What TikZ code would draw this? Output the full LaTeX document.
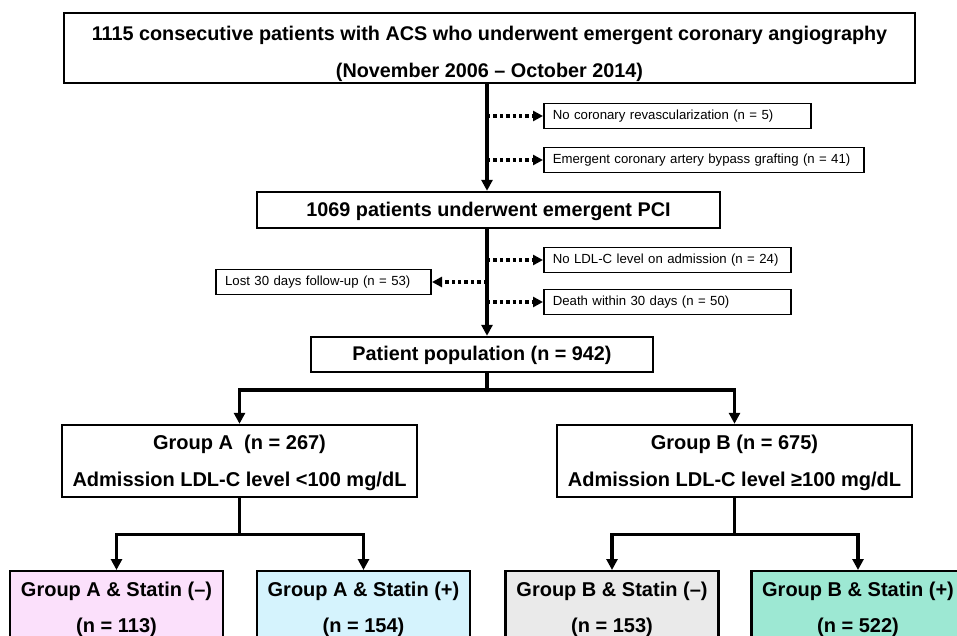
\documentclass[tikz,border=0pt]{standalone}
\usepackage{fontspec}
\setmainfont{Liberation Sans}
\usetikzlibrary{arrows.meta}
\definecolor{pinkfill}{HTML}{FBE0FB}
\definecolor{bluefill}{HTML}{D5F3FD}
\definecolor{greyfill}{HTML}{EAEAEA}
\definecolor{greenfill}{HTML}{9DE8D3}
\tikzset{
    mainbox/.style={draw, line width=2.4pt, fill=white, inner sep=0pt, align=center,
        font=\bfseries\fontsize{19.8}{37}\selectfont},
    groupbox/.style={mainbox, font=\bfseries\fontsize{20}{37}\selectfont},
    endbox/.style={draw, line width=2.4pt, inner xsep=0pt, inner ysep=11pt, align=center,
        anchor=north, minimum width=213, font=\bfseries\fontsize{20}{36}\selectfont},
    sidebox/.style={draw, line width=1.7pt, fill=white, inner xsep=9pt, inner ysep=0pt,
        minimum height=25, anchor=west, align=left, font=\fontsize{13.2}{15}\selectfont},
    flow/.style={line width=3.2pt, -{Triangle[length=11pt,width=11pt]}},
    drop/.style={line width=3.2pt, dash pattern=on 3.4pt off 3pt, -{Triangle[length=10pt,width=10pt]}}
}
\begin{document}
\begin{tikzpicture}[x=1pt,y=-1pt]
    \useasboundingbox (0,0) rectangle (957,636);
    \clip (0,0) rectangle (957,636);

    \coordinate (trunk) at (487,0);

    \node[
        mainbox,
        minimum width=851,
        minimum height=70,
        name=cohort
    ] at (489.5,48) {\rule{0pt}{26pt}1115 consecutive patients with ACS who underwent emergent coronary angiography\\(November 2006 – October 2014)};

    \node[
        sidebox,
        text width=249,
        name=norevasc
    ] at (543,116) {No coronary revascularization (n = 5)};
    \node[
        sidebox,
        text width=302,
        name=cabg
    ] at (543,160) {Emergent coronary artery bypass grafting (n = 41)};

    \node[
        mainbox,
        minimum width=463,
        minimum height=36,
        name=pci
    ] at (488.5,210) {\rule{0pt}{17pt}1069 patients underwent emergent PCI};

    \node[
        sidebox,
        text width=229,
        name=noldl
    ] at (543,260) {No LDL-C level on admission (n = 24)};
    \node[
        sidebox,
        text width=197,
        anchor=east,
        name=lost
    ] at (432,282) {Lost 30 days follow-up (n = 53)};
    \node[
        sidebox,
        text width=229,
        name=death
    ] at (543,302) {Death within 30 days (n = 50)};

    \node[
        mainbox,
        minimum width=342,
        minimum height=35,
        name=population
    ] at (482,354.5) {\rule{0pt}{17pt}Patient population (n = 942)};

    \node[
        groupbox,
        minimum width=355,
        minimum height=72,
        name=groupA
    ] at (239.5,461) {\rule{0pt}{19pt}Group A\ \ (n = 267)\\Admission LDL-C level <100 mg/dL};
    \node[
        groupbox,
        minimum width=355,
        minimum height=72,
        name=groupB
    ] at (734.5,461) {\rule{0pt}{19pt}Group B (n = 675)\\Admission LDL-C level ≥100 mg/dL};

    \node[endbox, fill=pinkfill, name=Aneg] at (116.5,570) {Group A \& Statin (–)\\(n = 113)};
    \node[endbox, fill=bluefill, name=Apos] at (363.5,570) {Group A \& Statin (+)\\(n = 154)};
    \node[endbox, fill=greyfill, name=Bneg] at (612,570) {Group B \& Statin (–)\\(n = 153)};
    \node[endbox, fill=greenfill, name=Bpos] at (858,570) {Group B \& Statin (+)\\(n = 522)};

    \draw[flow] (cohort.south -| trunk) -- (pci.north -| trunk);
    \draw[drop] (norevasc.west -| trunk) -- (norevasc.west);
    \draw[drop] (cabg.west -| trunk) -- (cabg.west);

    \draw[flow] (pci.south -| trunk) -- (population.north -| trunk);
    \draw[drop] (noldl.west -| trunk) -- (noldl.west);
    \draw[drop] (lost.east -| trunk) -- (lost.east);
    \draw[drop] (death.west -| trunk) -- (death.west);

    \coordinate (split) at (487,390);
    \draw[flow] (population.south -| trunk) -- (split) -| (groupA.north);
    \draw[flow] (split) -| (groupB.north);

    \path (groupA.south) ++(0,36) coordinate (splitA);
    \draw[flow] (groupA.south) -- (splitA) -| (Aneg.north);
    \draw[flow] (splitA) -| (Apos.north);

    \path (groupB.south) ++(0,36) coordinate (splitB);
    \draw[flow] (groupB.south) -- (splitB) -| (Bneg.north);
    \draw[flow] (splitB) -| (Bpos.north);
\end{tikzpicture}
\end{document}
